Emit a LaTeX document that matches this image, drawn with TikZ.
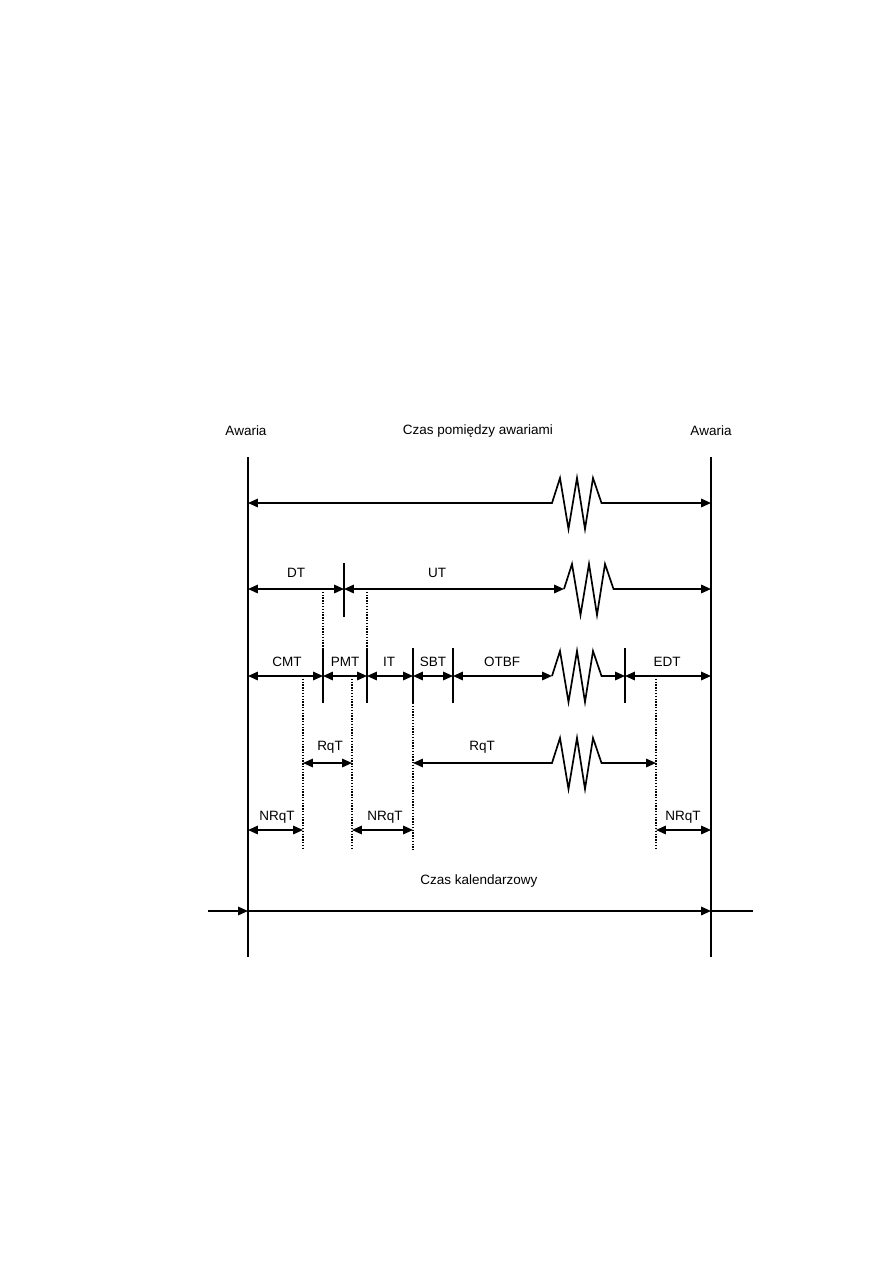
\documentclass[tikz,border=0pt]{standalone}
\usepackage{fontspec}
\setmainfont{Liberation Sans}
\usetikzlibrary{arrows.meta}
\tikzset{
  tip/.tip={Triangle[length=7pt,width=6pt]},
  dimboth/.style={line width=1.2pt, tip-tip},
  dimto/.style={line width=1.2pt, -tip},
  mainline/.style={line width=1.4pt},
  tick/.style={line width=1.1pt},
  guide/.style={line width=0.9pt, dash pattern=on 1pt off 1pt},
  lbl/.style={font=\fontsize{9.6}{11}\selectfont, inner sep=1pt}
}
% zigzag break in a long span
\newcommand{\zigzag}{-- ++(8,-25) -- ++(8.5,51) -- ++(8.5,-51) -- ++(8,51) -- ++(8,-51) -- ++(8.5,25)}
\begin{document}
\begin{tikzpicture}[x=0.025cm, y=-0.025cm]
  \useasboundingbox (0,0) rectangle (893,1263);
  % positions on each row
  \foreach \n/\x in {L/248, R/711, a/303, b/323, c/344, d/352, e/367, f/413, g/453, h/625, k/656}
    \foreach \r/\y in {1/503, 2/589, 3/676, 4/763, 5/830, 6/911}
      \coordinate (\n\r) at (\x,\y);
  \coordinate (z1) at (552,503);
  \coordinate (z2) at (564,589);
  \coordinate (z3) at (552,676);
  \coordinate (z4) at (552,763);
  \coordinate (Ltop) at (248,457);
  \coordinate (Lbot) at (248,957);
  \coordinate (Rtop) at (711,457);
  \coordinate (Rbot) at (711,957);
  \coordinate (in6) at (208,911);
  \coordinate (out6) at (753,911);

  % failures
  \draw[mainline] (Ltop) -- (Lbot);
  \draw[mainline] (Rtop) -- (Rbot);
  \node[lbl] (fail1) at (246,431) {Awaria};
  \node[lbl] (fail2) at (711,431) {Awaria};
  \node[lbl] (tbf) at (478,431) {Czas pomiędzy awariami};

  % row 1
  \draw[dimboth] (L1) -- (z1) \zigzag -- (R1);

  % row 2: DT / UT
  \draw[tick] (344,563) -- (344,617);
  \draw[dimboth] (L2) -- (c2);
  \draw[dimboth] (c2) -- (z2);
  \draw[dimto] (z2) \zigzag -- (R2);
  \node[lbl] (dt) at (296,573) {DT};
  \node[lbl] (ut) at (437,573) {UT};
  \draw[guide] (b2) -- (323,648);
  \draw[guide] (e2) -- (367,648);

  % row 3
  \foreach \x in {323, 367, 413, 453, 625}
    \draw[tick] (\x,648) -- (\x,703);
  \draw[dimboth] (L3) -- (b3);
  \draw[dimboth] (b3) -- (e3);
  \draw[dimboth] (e3) -- (f3);
  \draw[dimboth] (f3) -- (g3);
  \draw[dimboth] (g3) -- (z3);
  \draw[dimto] (z3) \zigzag -- (h3);
  \draw[dimboth] (h3) -- (R3);
  \node[lbl] (cmt) at (287,662) {CMT};
  \node[lbl] (pmt) at (345,662) {PMT};
  \node[lbl] (it) at (389,662) {IT};
  \node[lbl] (sbt) at (433,662) {SBT};
  \node[lbl] (otbf) at (502,662) {OTBF};
  \node[lbl] (edt) at (667,662) {EDT};
  \draw[guide] (a3) -- (303,850);
  \draw[guide] (d3) -- (352,850);
  \draw[guide] (413,703) -- (413,850);
  \draw[guide] (k3) -- (656,850);

  % row 4: RqT
  \draw[dimboth] (a4) -- (d4);
  \draw[dimboth] (f4) -- (z4) \zigzag -- (k4);
  \node[lbl] (rqt1) at (330,747) {RqT};
  \node[lbl] (rqt2) at (482,747) {RqT};

  % row 5: NRqT
  \draw[dimboth] (L5) -- (a5);
  \draw[dimboth] (d5) -- (f5);
  \draw[dimboth] (k5) -- (R5);
  \node[lbl] (nrqt1) at (277,817) {NRqT};
  \node[lbl] (nrqt2) at (385,817) {NRqT};
  \node[lbl] (nrqt3) at (683,817) {NRqT};

  % calendar time
  \node[lbl] (cal) at (479,881) {Czas kalendarzowy};
  \draw[dimto] (in6) -- (L6);
  \draw[dimto] (L6) -- (R6);
  \draw[line width=1.2pt] (R6) -- (out6);
\end{tikzpicture}
\end{document}
